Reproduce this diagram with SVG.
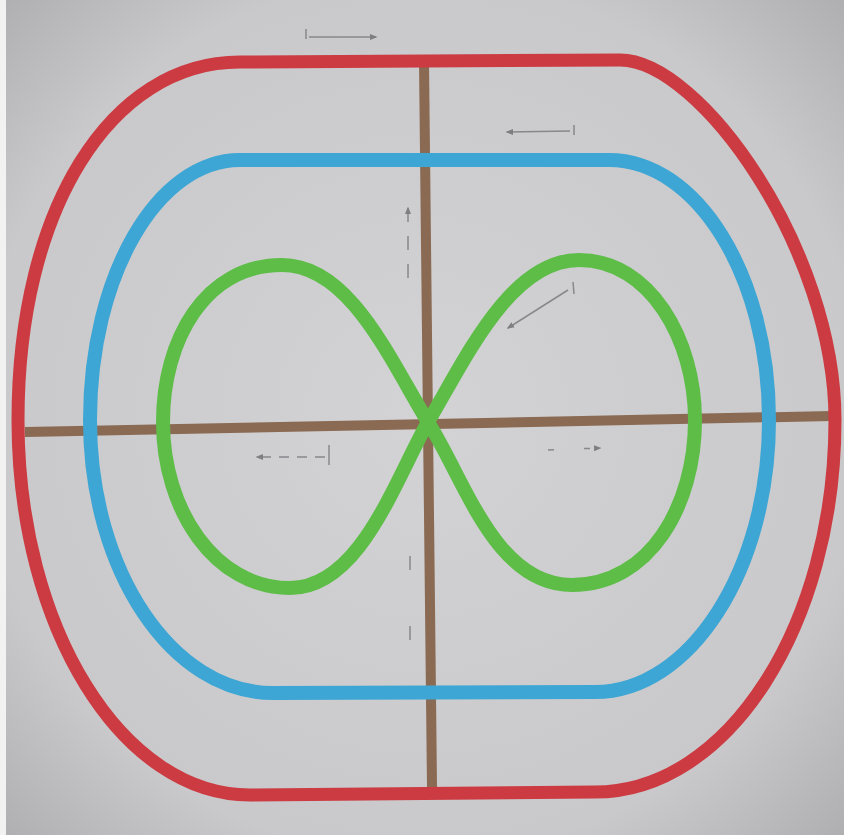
<svg xmlns="http://www.w3.org/2000/svg" width="844" height="835" viewBox="0 0 844 835">
  <defs>
    <radialGradient id="bg" cx="0.5" cy="0.5" r="0.75">
      <stop offset="0" stop-color="#d3d3d5"/>
      <stop offset="0.7" stop-color="#c9c9cb"/>
      <stop offset="1" stop-color="#a9a9ab"/>
    </radialGradient>
    <marker id="ah" viewBox="0 0 10 10" refX="8" refY="5" markerWidth="5" markerHeight="5" orient="auto-start-reverse">
      <path d="M0,1 L10,5 L0,9 Z" fill="#6b6b70"/>
    </marker>
  </defs>
  <style>
    .loop { fill: none; stroke-linejoin: round; stroke-linecap: round; }
    .red { stroke: #cc3b42; stroke-width: 13; }
    .blue { stroke: #3ea6d4; stroke-width: 14; }
    .green { stroke: #5dbd47; stroke-width: 14; }
    .axis { stroke: #8a6a53; stroke-width: 10; fill: none; }
    .mark { stroke: #77777c; stroke-width: 1.5; fill: none; opacity: 0.8; }
  </style>
  <rect x="0" y="0" width="844" height="835" fill="url(#bg)"/>
  <rect x="0" y="0" width="6" height="835" fill="#f2f2f2"/>

  <g id="axes">
    <path class="axis" d="M424,62 L432,787"/>
    <path class="axis" d="M25,432 L832,416"/>
  </g>

  <g id="red-loop">
    <path class="loop red" d="M240,62 L620,60 C700,60 835,250 835,420 C835,625 728,792 595,792 L250,795 C122,795 18,628 18,420 C18,210 110,62 240,62 Z"/>
  </g>

  <g id="blue-loop">
    <path class="loop blue" d="M240,160 L609,160 C697,160 769,276 769,420 C769,570 690,692 595,692 L273,693 C172,693 90,571 90,420 C90,276 157,160 240,160 Z"/>
  </g>

  <g id="green-loop">
    <path class="loop green" d="M428,422 C390,360 350,265 282,265 C205,265 163,340 163,422 C163,510 215,588 290,588 C360,588 395,480 428,422 C465,360 510,260 579,260 C650,260 695,340 695,420 C695,505 650,585 572,585 C495,585 465,480 428,422 Z"/>
  </g>

  <g id="marks">
    <path class="mark" d="M306,29 L306,39"/>
    <path class="mark" d="M309,37 L376,37" marker-end="url(#ah)"/>
    <path class="mark" d="M574,125 L574,135"/>
    <path class="mark" d="M570,131 L507,132" marker-end="url(#ah)"/>
    <path class="mark" d="M408,208 L408,292" stroke-dasharray="14 14" marker-start="url(#ah)"/>
    <path class="mark" d="M573,282 L574,294"/>
    <path class="mark" d="M568,290 L508,328" marker-end="url(#ah)"/>
    <path class="mark" d="M329,445 L329,465"/>
    <path class="mark" d="M325,457 L257,457" stroke-dasharray="10 8" marker-end="url(#ah)"/>
    <path class="mark" d="M548,450 L600,448" stroke-dasharray="6 30" marker-end="url(#ah)"/>
    <path class="mark" d="M410,556 L410,640" stroke-dasharray="14 56 14" />
  </g>
</svg>
